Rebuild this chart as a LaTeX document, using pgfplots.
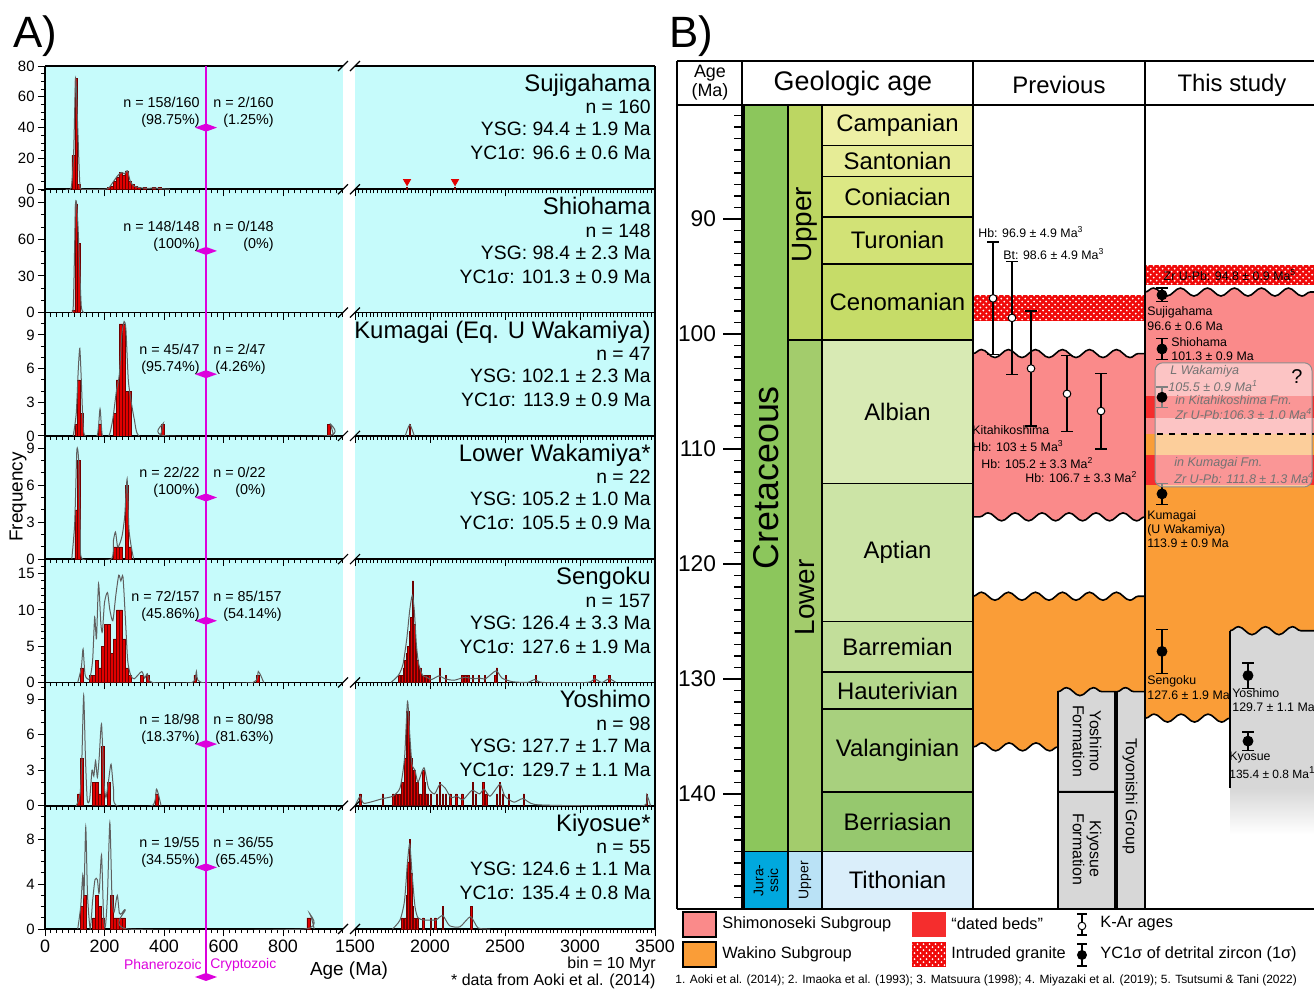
\documentclass[border=0pt]{standalone}
\usepackage{fontspec}
\setmainfont{Liberation Sans}
\usepackage{pgfplots}
\pgfplotsset{compat=1.18}
\usetikzlibrary{patterns,decorations.pathmorphing}
\newcommand{\fsz}[1]{\fontsize{#1}{#1}\selectfont}
\definecolor{cyanbg}{RGB}{198,251,251}
\definecolor{barred}{RGB}{225,0,0}
\definecolor{bardark}{RGB}{110,0,0}
\definecolor{kdegray}{RGB}{95,95,95}
\definecolor{magl}{RGB}{220,0,220}
\definecolor{pinkc}{RGB}{250,138,138}
\definecolor{orangec}{RGB}{250,157,55}
\definecolor{datedred}{RGB}{245,45,45}
\definecolor{granitered}{RGB}{240,10,10}
\definecolor{graybox}{RGB}{215,215,215}
\definecolor{cCamp}{RGB}{238,240,165}
\definecolor{cSant}{RGB}{230,236,150}
\definecolor{cConi}{RGB}{220,232,132}
\definecolor{cTuro}{RGB}{210,226,118}
\definecolor{cCeno}{RGB}{198,220,104}
\definecolor{cAlbi}{RGB}{216,234,180}
\definecolor{cApti}{RGB}{204,228,166}
\definecolor{cBarr}{RGB}{194,222,154}
\definecolor{cHaut}{RGB}{180,215,140}
\definecolor{cVala}{RGB}{168,208,126}
\definecolor{cBerr}{RGB}{150,200,110}
\definecolor{cTith}{RGB}{218,238,250}
\definecolor{cCret}{RGB}{140,198,92}
\definecolor{cUpK}{RGB}{188,214,98}
\definecolor{cLoK}{RGB}{163,204,108}
\definecolor{cJur}{RGB}{0,168,222}
\definecolor{cUpJ}{RGB}{186,226,246}
\tikzset{wave/.style={decoration={snake,amplitude=2bp,segment length=13.5bp}}}
\pgfplotsset{
  pa/.style={scale only axis, height=61.64bp, anchor=south west, enlargelimits=false, ymin=0,
    tick align=outside, major tick length=3.5bp, minor tick length=2bp,
    axis background/.style={fill=cyanbg},
    axis x line*=bottom, axis line style={-,line width=0.8bp,black},
    every tick/.style={black,line width=0.5bp},
    yticklabel style={font=\fsz{7.5}, inner sep=1.5bp},
    xticklabel style={font=\fsz{9}, yshift=1.5bp},
    /pgf/number format/assume math mode=true,
    /pgf/number format/1000 sep={},
    xticklabels={}},
  pl/.style={pa, width=148.75bp, xmin=0, xmax=1000, xtick={0,200,...,800}, minor xtick={0,20,...,1000}, axis y line*=left},
  pr/.style={pa, width=150bp, xmin=1500, xmax=3500, xtick={1500,2000,...,3500}, minor xtick={1500,1525,...,3500}, axis y line*=right, ytick=\empty},
  hb/.style={ybar, bar width=10, bar shift=0pt, fill=barred, draw=bardark, line width=0.25bp},
  kd/.style={smooth, tension=0.4, draw=kdegray, line width=0.5bp, mark=none},
}
\begin{document}
\begin{tikzpicture}
\path[use as bounding box] (0bp,0bp) rectangle (657bp,-494.5bp);

% ===== Row 7: Kiyosue =====
\begin{axis}[pl, at={(22.5bp,-464.5bp)}, ymax=11, ytick={0,4,8}, minor ytick={0,1,...,11}, xticklabels={0,200,400,600,800}]
\addplot[hb] coordinates {(125,2)(135,3)(165,1)(175,3)(185,2)(195,1)(225,3)(235,1)(245,1)(255,1)(265,1)(885,1)};
\addplot[kd] coordinates {(110,0)(120,2)(127,4.8)(131,3)(137,9.1)(143,3)(152,0)(160,2.5)(168,4.4)(176,4.4)(182,3.2)(190,6.6)(197,1)(203,0.2)(210,3)(218,9.5)(225,3)(232,1.5)(243,3)(250,1.4)(258,1.4)(270,1.7)(280,0)(870,0)(889,1.4)(905,0)};
\end{axis}
\begin{axis}[pr, at={(177.5bp,-464.5bp)}, ymax=11, xticklabels={1500,2000,2500,3000,3500}]
\addplot[hb] coordinates {(1815,1)(1835,1)(1845,3)(1855,6)(1865,8)(1875,5)(1885,2)(1895,1)(1915,1)(1955,1)(2005,1)(2035,1)(2085,2)(2275,2)};
\addplot[kd] coordinates {(1750,0)(1800,0.8)(1830,2.5)(1850,6)(1865,7.6)(1880,5)(1900,2)(1920,1)(1960,0.8)(2000,0.8)(2040,0.8)(2085,1.2)(2130,0.3)(2200,0.2)(2270,1.1)(2320,0.1)(2400,0)};
\end{axis}

% ===== Row 6: Yoshimo =====
\begin{axis}[pl, at={(22.5bp,-402.86bp)}, ymax=10.4, ytick={0,3,6,9}, minor ytick={0,1,...,10}]
\addplot[hb] coordinates {(115,1)(125,4)(165,2)(175,2)(185,1)(195,5)(215,2)(375,1)};
\addplot[kd] coordinates {(105,0)(118,1)(124,4)(130,9.3)(136,4)(142,0.5)(150,0.5)(158,3)(164,2.5)(170,3.8)(176,2.4)(182,4)(190,6.9)(198,2)(205,0.7)(213,2)(222,3.5)(230,1.5)(240,0)(360,0)(375,1.4)(390,0)};
\end{axis}
\begin{axis}[pr, at={(177.5bp,-402.86bp)}, ymax=10.4]
\addplot[hb] coordinates {(1535,1)(1685,1)(1755,1)(1775,1)(1795,1)(1805,1)(1815,2)(1825,2)(1835,4)(1845,8)(1855,8)(1865,5)(1875,4)(1885,3)(1895,3)(1905,2)(1915,2)(1925,1)(1935,1)(1955,3)(1965,2)(1975,1)(1985,1)(2005,1)(2045,1)(2065,2)(2085,1)(2105,1)(2135,1)(2175,1)(2215,1)(2285,2)(2305,1)(2355,2)(2375,1)(2445,1)(2465,2)(2485,1)(2525,1)(2625,1)(3445,1)};
\addplot[kd] coordinates {(1500,0)(1535,0.8)(1560,0.2)(1685,0.6)(1750,0.8)(1800,1.5)(1830,4)(1850,8.8)(1865,6)(1880,3.5)(1900,3)(1920,2)(1960,3.2)(1990,1.5)(2030,1)(2065,1.8)(2100,1.5)(2140,0.7)(2180,0.8)(2220,0.5)(2280,1.3)(2330,1)(2360,1.4)(2400,0.8)(2450,1.6)(2470,1.8)(2500,0.8)(2560,0.3)(2620,0.6)(2700,0.1)(3000,0)(3420,0)(3445,0.9)(3470,0)};
\end{axis}

% ===== Row 5: Sengoku =====
\begin{axis}[pl, at={(22.5bp,-341.21bp)}, ymax=17, ytick={0,5,10,15}, minor ytick={0,1,...,17}]
\addplot[hb] coordinates {(125,2)(155,1)(165,1)(175,3)(185,2)(195,5)(205,8)(215,8)(225,4)(235,6)(245,10)(255,10)(265,6)(275,2)(285,1)(325,1)(345,1)(505,1)(715,1)};
\addplot[kd] coordinates {(110,0)(122,2)(128,4.6)(135,1)(150,0.5)(160,3)(167,9)(173,6)(180,13.6)(188,8)(193,7)(200,11)(210,12.4)(218,10)(228,8.5)(238,12)(248,14.8)(255,14)(262,14.6)(270,9)(278,3)(288,1)(300,0.5)(325,1.5)(335,0.6)(344,1.2)(360,0)(495,0)(509,1.5)(525,0)(700,0)(717,1.5)(735,0)};
\end{axis}
\begin{axis}[pr, at={(177.5bp,-341.21bp)}, ymax=17]
\addplot[hb] coordinates {(1795,1)(1805,1)(1815,1)(1825,2)(1835,3)(1845,4)(1855,5)(1865,7)(1875,9)(1885,14)(1895,8)(1905,5)(1915,3)(1925,2)(1935,2)(1945,1)(1955,1)(1975,1)(1995,1)(2065,2)(2105,1)(2215,1)(2235,1)(2255,1)(2285,1)(2325,1)(2365,1)(2435,1)(2445,2)(2505,1)(2705,1)(3095,1)(3195,1)};
\addplot[kd] coordinates {(1740,0)(1790,1)(1820,2.5)(1845,6)(1865,10)(1882,12)(1895,10)(1910,5)(1925,2.5)(1950,1)(1980,0.7)(2010,0.4)(2060,0.9)(2100,0.5)(2160,0.3)(2230,0.7)(2290,0.5)(2330,0.6)(2370,0.5)(2440,1.6)(2480,0.6)(2550,0.1)(2650,0)(2700,0.4)(2750,0)(3050,0)(3095,0.5)(3140,0)(3150,0)(3195,0.5)(3240,0)};
\end{axis}

% ===== Row 4: Lower Wakamiya =====
\begin{axis}[pl, at={(22.5bp,-279.57bp)}, ymax=10, ytick={0,3,6,9}, minor ytick={0,1,...,10}]
\addplot[hb] coordinates {(105,4)(115,8)(235,1)(245,1)(255,1)(275,6)(285,1)};
\addplot[kd] coordinates {(90,0)(100,3)(107,8.8)(113,8)(119,2)(126,0)(222,0)(230,1.5)(237,2.2)(244,1)(252,1.3)(260,2)(268,3.5)(276,6.5)(282,2.5)(290,1)(298,0)};
\end{axis}
\begin{axis}[pr, at={(177.5bp,-279.57bp)}, ymax=10]
\addplot[draw=none] coordinates {(1500,0)};
\end{axis}

% ===== Row 3: Kumagai =====
\begin{axis}[pl, at={(22.5bp,-217.93bp)}, ymax=11, ytick={0,3,6,9}, minor ytick={0,1,...,11}]
\addplot[hb] coordinates {(105,1)(115,5)(125,2)(185,1)(235,2)(245,5)(255,10)(265,10)(275,4)(285,4)(395,1)(955,1)};
\addplot[kd] coordinates {(95,0)(105,2)(112,6)(117,7.8)(122,5)(128,1)(135,0)(175,0)(185,2.4)(193,0)(215,0)(228,1.5)(240,4)(250,5.5)(258,9)(266,10.2)(272,9.5)(280,5)(290,3)(300,1.5)(315,0)(385,0)(397,1.1)(409,0)(945,0)(958,1.1)(970,0)};
\end{axis}
\begin{axis}[pr, at={(177.5bp,-217.93bp)}, ymax=11]
\addplot[hb] coordinates {(1865,1)};
\addplot[kd] coordinates {(1835,0)(1865,1)(1895,0)};
\end{axis}

% ===== Row 2: Shiohama =====
\begin{axis}[pl, at={(22.5bp,-156.29bp)}, ymax=101, ytick={0,30,60,90}, minor ytick={0,10,...,100}]
\addplot[hb] coordinates {(95,2)(105,89)(115,57)};
\addplot[kd] coordinates {(85,0)(95,5)(103,90)(110,75)(116,40)(122,5)(130,0)};
\end{axis}
\begin{axis}[pr, at={(177.5bp,-156.29bp)}, ymax=101]
\addplot[draw=none] coordinates {(1500,0)};
\end{axis}

% ===== Row 1: Sujigahama =====
\begin{axis}[pl, at={(22.5bp,-94.64bp)}, ymax=80, ytick={0,20,...,80}, minor ytick={0,5,...,80}]
\addplot[hb] coordinates {(95,22)(105,72)(115,3)(215,1)(225,2)(235,5)(245,8)(255,11)(265,9)(275,12)(285,5)(295,3)(305,2)(315,1)(335,1)(365,1)(385,1)};
\addplot[kd] coordinates {(70,0)(88,1)(96,22)(103,72)(110,40)(117,4)(125,0)(200,0)(215,1)(230,5)(245,9)(258,11)(268,10)(277,12)(287,5)(300,2)(320,1)(345,0.6)(370,0.8)(395,0.3)(420,0)};
\end{axis}
\begin{axis}[pr, at={(177.5bp,-94.64bp)}, ymax=80]
\addplot[hb] coordinates {(1845,1)(2165,1)};
\addplot[only marks, mark=triangle*, mark size=2bp, mark options={rotate=180, fill=barred, draw=barred}] coordinates {(1847,5)(2167,5)};
\end{axis}

% ===== Panel B =====
\begin{axis}[at={(371bp,-52.5bp)}, anchor=north west, scale only axis, width=286bp, height=402bp,
 xmin=742, xmax=1314, ymin=80.087, ymax=150, y dir=reverse,
 axis x line=none, axis y line*=left, axis line style={-,line width=0.8bp},
 ytick={90,100,...,140}, minor ytick={81,82,...,150}, tick align=outside,
 major tick length=9.5bp, minor tick length=4bp, every tick/.style={black,line width=0.6bp},
 yticklabel style={font=\fsz{11.4}}, /pgf/number format/assume math mode=true, clip=false]
% stages
\filldraw[fill=cCamp, line width=0.8bp] (axis cs:822,80.087) rectangle (axis cs:973,83.6);
\filldraw[fill=cSant, line width=0.8bp] (axis cs:822,83.6) rectangle (axis cs:973,86.3);
\filldraw[fill=cConi, line width=0.8bp] (axis cs:822,86.3) rectangle (axis cs:973,89.8);
\filldraw[fill=cTuro, line width=0.8bp] (axis cs:822,89.8) rectangle (axis cs:973,93.9);
\filldraw[fill=cCeno, line width=0.8bp] (axis cs:822,93.9) rectangle (axis cs:973,100.5);
\filldraw[fill=cAlbi, line width=0.8bp] (axis cs:822,100.5) rectangle (axis cs:973,113.0);
\filldraw[fill=cApti, line width=0.8bp] (axis cs:822,113.0) rectangle (axis cs:973,125.0);
\filldraw[fill=cBarr, line width=0.8bp] (axis cs:822,125.0) rectangle (axis cs:973,129.4);
\filldraw[fill=cHaut, line width=0.8bp] (axis cs:822,129.4) rectangle (axis cs:973,132.6);
\filldraw[fill=cVala, line width=0.8bp] (axis cs:822,132.6) rectangle (axis cs:973,139.8);
\filldraw[fill=cBerr, line width=0.8bp] (axis cs:822,139.8) rectangle (axis cs:973,145.0);
\filldraw[fill=cTith, line width=0.8bp] (axis cs:822,145.0) rectangle (axis cs:973,150);
\node[font=\fsz{12}] at (axis cs:897.5,81.84) {Campanian};
\node[font=\fsz{12}] at (axis cs:897.5,84.95) {Santonian};
\node[font=\fsz{12}] at (axis cs:897.5,88.05) {Coniacian};
\node[font=\fsz{12}] at (axis cs:897.5,91.85) {Turonian};
\node[font=\fsz{12}] at (axis cs:897.5,97.2) {Cenomanian};
\node[font=\fsz{12}] at (axis cs:897.5,106.75) {Albian};
\node[font=\fsz{12}] at (axis cs:897.5,119.0) {Aptian};
\node[font=\fsz{12}] at (axis cs:897.5,127.2) {Barremian};
\node[font=\fsz{12}] at (axis cs:897.5,131.0) {Hauterivian};
\node[font=\fsz{12}] at (axis cs:897.5,136.2) {Valanginian};
\node[font=\fsz{12}] at (axis cs:897.5,142.4) {Berriasian};
\node[font=\fsz{12}] at (axis cs:897.5,147.5) {Tithonian};
% period & epoch
\filldraw[fill=cCret, line width=0.8bp] (axis cs:744,80.087) rectangle (axis cs:788,145);
\filldraw[fill=cJur, line width=0.8bp] (axis cs:744,145) rectangle (axis cs:788,150);
\filldraw[fill=cUpK, line width=0.8bp] (axis cs:788,80.087) rectangle (axis cs:822,100.5);
\filldraw[fill=cLoK, line width=0.8bp] (axis cs:788,100.5) rectangle (axis cs:822,145);
\filldraw[fill=cUpJ, line width=0.8bp] (axis cs:788,145) rectangle (axis cs:822,150);
\node[font=\fsz{18}, rotate=90] at (axis cs:766,112.5) {Cretaceous};
\node[font=\fsz{14}, rotate=90] at (axis cs:805,90.5) {Upper};
\node[font=\fsz{14}, rotate=90] at (axis cs:805,122.9) {Lower};
\node[font=\fontsize{7}{7.5}\selectfont, rotate=90, align=center] at (axis cs:766,147.5) {Jura-\\ssic};
\node[font=\fsz{7}, rotate=90] at (axis cs:805,147.5) {Upper};
% ---- Previous column ----
\fill[granitered] (axis cs:973,96.6) rectangle (axis cs:1145,98.9);
\fill[pattern=crosshatch dots, pattern color=white] (axis cs:973,96.6) rectangle (axis cs:1145,98.9);
\fill[pinkc] (axis cs:973,101.7) decorate[wave]{-- (axis cs:1145,101.7)} -- (axis cs:1145,115.9) decorate[wave]{-- (axis cs:973,115.9)} -- cycle;
\draw[line width=0.8bp, wave, decorate] (axis cs:973,101.7) -- (axis cs:1145,101.7);
\draw[line width=0.8bp, wave, decorate] (axis cs:1145,115.9) -- (axis cs:973,115.9);
\fill[orangec] (axis cs:973,122.8) decorate[wave]{-- (axis cs:1145,122.8)} -- (axis cs:1145,131.6) -- (axis cs:1058,131.6) -- (axis cs:1058,135.9) decorate[wave]{-- (axis cs:973,135.9)} -- cycle;
\draw[line width=0.8bp, wave, decorate] (axis cs:973,122.8) -- (axis cs:1145,122.8);
\draw[line width=0.8bp, wave, decorate] (axis cs:1058,135.9) -- (axis cs:973,135.9);
\filldraw[fill=graybox, line width=0.8bp] (axis cs:1058,139.8) -- (axis cs:1058,131.1) decorate[wave]{-- (axis cs:1115,131.1)} -- (axis cs:1115,139.8) -- cycle;
\filldraw[fill=graybox, line width=0.8bp] (axis cs:1058,139.8) rectangle (axis cs:1115,150);
\filldraw[fill=graybox, line width=0.8bp] (axis cs:1117,150) -- (axis cs:1117,131.1) decorate[wave]{-- (axis cs:1145,131.1)} -- (axis cs:1145,150) -- cycle;
\node[font=\fontsize{8}{8.5}\selectfont, rotate=-90, align=center] at (axis cs:1087,135.4) {Yoshimo\\Formation};
\node[font=\fontsize{8}{8.5}\selectfont, rotate=-90, align=center] at (axis cs:1087,144.8) {Kiyosue\\Formation};
\node[font=\fsz{8}, rotate=-90] at (axis cs:1130,140.2) {Toyonishi Group};
\addplot[black, only marks, mark=*, mark size=1.9bp, mark options={fill=white, draw=black, line width=0.5bp},
  error bars/.cd, y dir=both, y explicit, error bar style={line width=0.6bp, black},
  error mark options={rotate=90, black, mark size=3bp, line width=0.6bp}]
  coordinates {(993,96.9) +- (0,4.9) (1012,98.6) +- (0,4.9) (1031,103) +- (0,5) (1067,105.2) +- (0,3.3) (1101,106.7) +- (0,3.3)};
% ---- This study column ----
\fill[granitered] (axis cs:1145,94.0) rectangle (axis cs:1314,95.7);
\fill[pattern=crosshatch dots, pattern color=white] (axis cs:1145,94.0) rectangle (axis cs:1314,95.7);
\fill[pinkc] (axis cs:1145,96.35) decorate[wave]{-- (axis cs:1314,96.35)} -- (axis cs:1314,108.7) -- (axis cs:1145,108.7) -- cycle;
\draw[line width=0.8bp, wave, decorate] (axis cs:1145,96.35) -- (axis cs:1314,96.35);
\fill[orangec] (axis cs:1145,108.7) -- (axis cs:1314,108.7) -- (axis cs:1314,126.4) -- (axis cs:1230,126.4) -- (axis cs:1230,133.4) decorate[wave]{-- (axis cs:1145,133.4)} -- cycle;
\draw[line width=0.8bp, wave, decorate] (axis cs:1230,133.4) -- (axis cs:1145,133.4);
\fill[graybox] (axis cs:1230,139.6) -- (axis cs:1230,125.8) decorate[wave]{-- (axis cs:1314,125.8)} -- (axis cs:1314,139.6) -- cycle;
\shade[top color=graybox, bottom color=white] (axis cs:1230,139.5) rectangle (axis cs:1314,143.5);
\draw[line width=0.8bp, wave, decorate] (axis cs:1230,125.8) -- (axis cs:1314,125.8);
\draw[line width=0.8bp] (axis cs:1230,125.8) -- (axis cs:1230,139.5);
\fill[datedred] (axis cs:1145,105.4) rectangle (axis cs:1314,107.3);
\fill[datedred] (axis cs:1145,110.5) rectangle (axis cs:1314,113.1);
\addplot[black, only marks, mark=*, mark size=2.5bp,
  error bars/.cd, y dir=both, y explicit, error bar style={line width=0.6bp, black},
  error mark options={rotate=90, black, mark size=3bp, line width=0.6bp}]
  coordinates {(1162,96.6) +- (0,0.6) (1162,101.3) +- (0,0.9) (1162,105.5) +- (0,0.9) (1162,113.9) +- (0,0.9) (1162,127.6) +- (0,1.9) (1248,129.7) +- (0,1.1) (1248,135.4) +- (0,0.8)};
\filldraw[fill=white, fill opacity=0.5, draw=black!45, rounded corners=4bp, line width=0.5bp] (axis cs:1155,102.5) rectangle (axis cs:1312,113.3);
\draw[dashed, line width=0.6bp] (axis cs:1157,108.7) -- (axis cs:1314,108.7);
\end{axis}

% ===== Overlays in pixel coordinates =====
\begin{scope}[x=0.5bp,y=-0.5bp]
\node[font=\fsz{22}, anchor=west] at (6,36) {A)};
\node[font=\fsz{22}, anchor=west] at (662,36) {B)};
\draw[line width=0.8bp] (45,66) -- (343,66);
\draw[line width=0.8bp] (355,66) -- (655,66);
\foreach \yy in {66,189.29,312.57,435.86,559.14,682.43,805.71,929} {
  \draw[line width=0.6bp] (338,\yy+5) -- (348,\yy-5);
  \draw[line width=0.6bp] (350,\yy+5) -- (360,\yy-5);
}
\draw[magl, line width=0.8bp] (206,66) -- (206,977);
\foreach \yy in {127.6,250.9,374.2,497.5,620.8,744.1,867.4,977} {
  \fill[magl] (195,\yy) -- (206,\yy-4) -- (217,\yy) -- (206,\yy+4) -- cycle;
}
% row texts
\tikzset{nm/.style={anchor=base east, font=\fsz{12}, inner sep=0}, st/.style={anchor=base east, font=\fsz{9.7}, inner sep=0},
  lb/.style={anchor=base east, font=\fontsize{7.2}{8.5}\selectfont, inner sep=0},
  rb/.style={anchor=base west, font=\fontsize{7.2}{8.5}\selectfont, inner sep=0}}
\node[nm] at (651,91.6) {Sujigahama};
\node[st] at (651,114) {n = 160};
\node[st] at (651,136) {YSG: 94.4 ± 1.9 Ma};
\node[st] at (651,160) {YC1σ: 96.6 ± 0.6 Ma};
\node[lb] at (200,108) {\begin{tabular}[t]{@{}r@{}}n = 158/160\\(98.75\%)\end{tabular}};
\node[rb] at (213,108) {\begin{tabular}[t]{@{}r@{}}n = 2/160\\(1.25\%)\end{tabular}};

\node[nm] at (651,214.9) {Shiohama};
\node[st] at (651,237.3) {n = 148};
\node[st] at (651,259.3) {YSG: 98.4 ± 2.3 Ma};
\node[st] at (651,283.3) {YC1σ: 101.3 ± 0.9 Ma};
\node[lb] at (200,231.3) {\begin{tabular}[t]{@{}r@{}}n = 148/148\\(100\%)\end{tabular}};
\node[rb] at (213,231.3) {\begin{tabular}[t]{@{}r@{}}n = 0/148\\(0\%)\end{tabular}};

\node[nm] at (651,338.2) {Kumagai (Eq. U Wakamiya)};
\node[st] at (651,360.6) {n = 47};
\node[st] at (651,382.6) {YSG: 102.1 ± 2.3 Ma};
\node[st] at (651,406.6) {YC1σ: 113.9 ± 0.9 Ma};
\node[lb] at (200,354.6) {\begin{tabular}[t]{@{}r@{}}n = 45/47\\(95.74\%)\end{tabular}};
\node[rb] at (213,354.6) {\begin{tabular}[t]{@{}r@{}}n = 2/47\\(4.26\%)\end{tabular}};

\node[nm] at (651,461.5) {Lower Wakamiya*};
\node[st] at (651,483.9) {n = 22};
\node[st] at (651,505.9) {YSG: 105.2 ± 1.0 Ma};
\node[st] at (651,529.9) {YC1σ: 105.5 ± 0.9 Ma};
\node[lb] at (200,477.9) {\begin{tabular}[t]{@{}r@{}}n = 22/22\\(100\%)\end{tabular}};
\node[rb] at (213,477.9) {\begin{tabular}[t]{@{}r@{}}n = 0/22\\(0\%)\end{tabular}};

\node[nm] at (651,584.7) {Sengoku};
\node[st] at (651,607.1) {n = 157};
\node[st] at (651,629.1) {YSG: 126.4 ± 3.3 Ma};
\node[st] at (651,653.1) {YC1σ: 127.6 ± 1.9 Ma};
\node[lb] at (200,601.1) {\begin{tabular}[t]{@{}r@{}}n = 72/157\\(45.86\%)\end{tabular}};
\node[rb] at (213,601.1) {\begin{tabular}[t]{@{}r@{}}n = 85/157\\(54.14\%)\end{tabular}};

\node[nm] at (651,708) {Yoshimo};
\node[st] at (651,730.4) {n = 98};
\node[st] at (651,752.4) {YSG: 127.7 ± 1.7 Ma};
\node[st] at (651,776.4) {YC1σ: 129.7 ± 1.1 Ma};
\node[lb] at (200,724.4) {\begin{tabular}[t]{@{}r@{}}n = 18/98\\(18.37\%)\end{tabular}};
\node[rb] at (213,724.4) {\begin{tabular}[t]{@{}r@{}}n = 80/98\\(81.63\%)\end{tabular}};

\node[nm] at (651,831.3) {Kiyosue*};
\node[st] at (651,853.7) {n = 55};
\node[st] at (651,875.7) {YSG: 124.6 ± 1.1 Ma};
\node[st] at (651,899.7) {YC1σ: 135.4 ± 0.8 Ma};
\node[lb] at (200,847.7) {\begin{tabular}[t]{@{}r@{}}n = 19/55\\(34.55\%)\end{tabular}};
\node[rb] at (213,847.7) {\begin{tabular}[t]{@{}r@{}}n = 36/55\\(65.45\%)\end{tabular}};
% axis labels panel A
\node[font=\fsz{9.5}, rotate=90] at (18,497) {Frequency};
\node[font=\fsz{9.5}] at (349,971) {Age (Ma)};
\node[font=\fsz{7}, text=magl, anchor=east, inner sep=1bp] at (204,965) {Phanerozoic};
\node[font=\fsz{7}, text=magl, anchor=west, inner sep=1bp] at (208,965) {Cryptozoic};
\node[font=\fsz{8}, anchor=east, inner sep=0] at (656,964) {bin = 10 Myr};
\node[font=\fsz{8}, anchor=east, inner sep=0] at (656,981) {* data from Aoki et al. (2014)};
% ===== Panel B frame and header =====
\draw[line width=0.8bp] (677,61) -- (1314,61);
\draw[line width=0.8bp] (677,909) -- (1314,909);
\draw[line width=0.8bp] (677,105) -- (1314,105);
\draw[line width=0.8bp] (677,61) -- (677,909);
\draw[line width=0.8bp] (742,61) -- (742,909);
\draw[line width=0.8bp] (973,61) -- (973,909);
\draw[line width=0.8bp] (1145,61) -- (1145,909);
\node[font=\fsz{9}] at (710,73) {Age};
\node[font=\fsz{9}] at (710,92) {(Ma)};
\node[font=\fsz{13.5}] at (853,84) {Geologic age};
\node[font=\fsz{12}] at (1059,85) {Previous};
\node[font=\fsz{12}] at (1232,85) {This study};
% previous labels
\tikzset{sl/.style={anchor=west, font=\fsz{6.2}, inner sep=0}}
\node[sl] at (978,232) {Hb: 96.9 ± 4.9 Ma\textsuperscript{3}};
\node[sl] at (1003,254) {Bt: 98.6 ± 4.9 Ma\textsuperscript{3}};
\node[sl] at (972,430) {Kitahikoshima};
\node[sl] at (972,446) {Hb: 103 ± 5 Ma\textsuperscript{3}};
\node[sl] at (981,463) {Hb: 105.2 ± 3.3 Ma\textsuperscript{2}};
\node[sl] at (1025,477) {Hb: 106.7 ± 3.3 Ma\textsuperscript{2}};
% this study labels
\node[font=\fsz{6.2}, text=black] at (1230,275) {Zr U-Pb: 94.8 ± 0.9 Ma\textsuperscript{5}};
\node[sl] at (1147,312) {Sujigahama};
\node[sl] at (1147,326) {96.6 ± 0.6 Ma};
\node[sl] at (1171,342) {Shiohama};
\node[sl] at (1171,356) {101.3 ± 0.9 Ma};
\node[sl] at (1147,516) {Kumagai};
\node[sl] at (1147,530) {(U Wakamiya)};
\node[sl] at (1147,543) {113.9 ± 0.9 Ma};
\node[sl] at (1147,681) {Sengoku};
\node[sl] at (1147,695) {127.6 ± 1.9 Ma};
\node[sl] at (1232,693) {Yoshimo};
\node[sl] at (1232,707) {129.7 ± 1.1 Ma};
\node[sl] at (1229,758) {Kyosue};
\node[sl, font=\fsz{6}] at (1229,773) {135.4 ± 0.8 Ma\textsuperscript{1}};
\tikzset{gl/.style={anchor=west, font=\fsz{6.3}\itshape, text=black!55, inner sep=0}}
\node[gl] at (1170,371) {L Wakamiya};
\node[gl] at (1168,386) {105.5 ± 0.9 Ma\textsuperscript{1}};
\node[gl] at (1175,400) {in Kitahikoshima Fm.};
\node[gl] at (1175,414) {Zr U-Pb:106.3 ± 1.0 Ma\textsuperscript{4}};
\node[gl] at (1174,463) {in Kumagai Fm.};
\node[gl] at (1174,478) {Zr U-Pb: 111.8 ± 1.3 Ma\textsuperscript{4}};
\node[font=\fsz{10}] at (1297,377) {?};
% legend
\filldraw[fill=pinkc, draw=black, line width=0.9bp] (683,912) rectangle (716,937);
\filldraw[fill=orangec, draw=black, line width=0.9bp] (683,942) rectangle (716,967);
\node[anchor=west, font=\fsz{8.2}, inner sep=0] at (722,924) {Shimonoseki Subgroup};
\node[anchor=west, font=\fsz{8.2}, inner sep=0] at (722,954) {Wakino Subgroup};
\fill[datedred] (912,912) rectangle (946,937);
\fill[granitered] (912,942) rectangle (946,967);
\fill[pattern=crosshatch dots, pattern color=white] (912,942) rectangle (946,967);
\node[anchor=west, font=\fsz{8.2}, inner sep=0] at (951,924) {“dated beds”};
\node[anchor=west, font=\fsz{8.2}, inner sep=0] at (951,954) {Intruded granite};
\draw[line width=0.6bp] (1082,914) -- (1082,935) (1077,914) -- (1087,914) (1077,935) -- (1087,935);
\filldraw[fill=white, draw=black, line width=0.5bp] (1082,926) circle (1.9bp);
\draw[line width=0.6bp] (1082,944) -- (1082,966) (1077,944) -- (1087,944) (1077,966) -- (1087,966);
\fill (1082,955) circle (2.5bp);
\node[anchor=west, font=\fsz{8.2}, inner sep=0] at (1100,924) {K-Ar ages};
\node[anchor=west, font=\fsz{8.2}, inner sep=0] at (1100,954) {YC1σ of detrital zircon (1σ)};
\node[anchor=west, font=\fsz{6}, inner sep=0] at (675,980) {1. Aoki et al. (2014); 2. Imaoka et al. (1993); 3. Matsuura (1998); 4. Miyazaki et al. (2019); 5. Tsutsumi \& Tani (2022)};
\end{scope}
\end{tikzpicture}
\end{document}
